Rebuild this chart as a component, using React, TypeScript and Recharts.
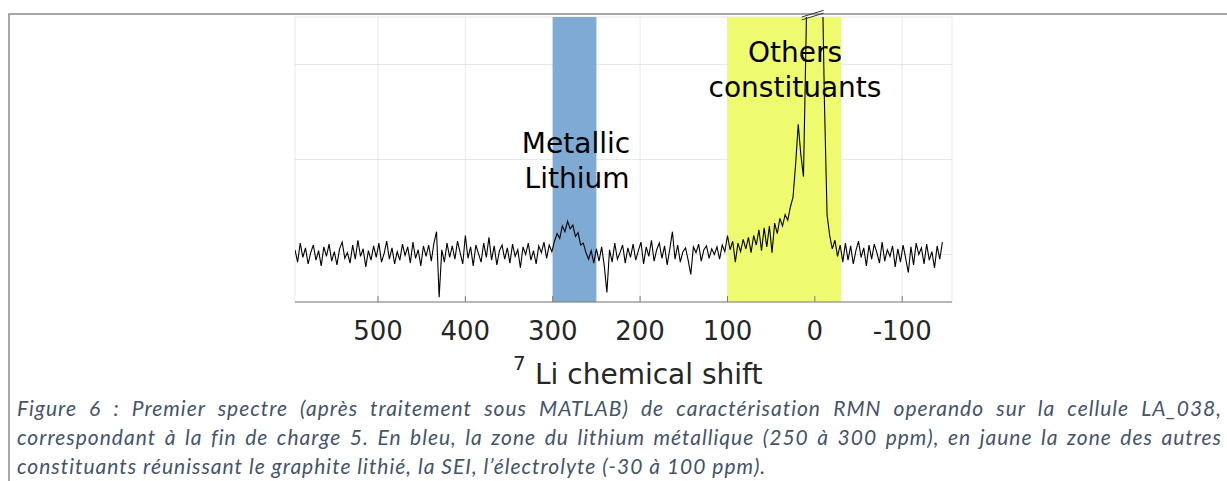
import {
  LineChart,
  Line,
  XAxis,
  YAxis,
  CartesianGrid,
  ReferenceArea,
  ReferenceLine,
} from "recharts";

// 7Li spectrum, one sample every 3 ppm starting at 595 ppm
const SHIFT_START = 595;
const SHIFT_STEP = 3;

const intensity = [
  // 595 .. 568
  0.05, -0.08, 0.12, -0.03, 0.07, -0.1, 0.02, 0.1, -0.06, 0.04,
  -0.12, 0.08, -0.02, 0.11, -0.07, 0.03, -0.11, 0.06, 0.13, -0.04,
  0.02, -0.09, 0.1, -0.05, 0.15, -0.02, 0.06, -0.13, 0.04, -0.06,
  0.09, -0.03, 0.12, -0.08, 0.01, 0.14, -0.05, 0.07, -0.1, 0.03,
  -0.06, 0.11, -0.01, 0.08, -0.09, 0.13, -0.04, 0.05, -0.12, 0.09,
  // 445 .. 418 (spike near 430)
  -0.02, 0.1, -0.07, 0.12, 0.24, -0.45, 0.05, -0.08, 0.12, -0.03,
  0.09, -0.05, 0.14, 0.02, -0.1, 0.2, -0.04, 0.08, -0.12, 0.1,
  0.01, -0.08, 0.12, -0.03, 0.18, -0.06, 0.09, -0.11, 0.04, 0.1,
  -0.05, 0.07, -0.09, 0.11, -0.02, 0.05, -0.14, 0.08, 0.0, 0.12,
  -0.06, 0.04, -0.1, 0.09, 0.02, 0.13, -0.04, 0.1, 0.03, 0.14,
  // 295 .. 268 metallic lithium bump
  0.22, 0.17, 0.3, 0.24, 0.35, 0.27, 0.31, 0.19, 0.23, 0.1,
  0.12, 0.02, -0.05, 0.04, -0.09, 0.06, -0.07, 0.08, -0.12, -0.4,
  0.05, -0.08, 0.12, -0.05, 0.02, 0.1, -0.09, 0.07, -0.03, 0.11,
  -0.06, 0.04, 0.13, -0.1, 0.08, -0.02, 0.15, -0.07, 0.05, 0.12,
  -0.04, 0.09, -0.11, 0.06, 0.24, -0.05, 0.1, -0.08, 0.03, 0.07,
  -0.06, -0.21, 0.08, 0.02, 0.11, -0.07, 0.05, 0.09, -0.04, 0.06,
  0.0, 0.08, -0.05, 0.1, 0.03,
  // 100 .. 73
  0.2, 0.05, 0.14, -0.08, 0.12, 0.03, 0.16, 0.06, 0.18, 0.02,
  0.2, 0.1, 0.26, 0.04, 0.28, 0.08, 0.3, 0.02, 0.33, 0.22,
  // 40 .. 13
  0.38, 0.3, 0.42, 0.36, 0.5, 0.6, 0.95, 1.37, 1.05, 0.82,
  // 10 .. -17 main peak (off scale)
  2.3, 4.0, 3.6, 3.8, 4.1, 3.7, 3.2, 1.6, 0.42, 0.2,
  0.06, 0.15, -0.02, 0.1, -0.08,
  // -35 .. -146
  0.12, -0.06, 0.09, -0.1, 0.04, 0.14, -0.03, 0.07, -0.12, 0.1,
  -0.05, 0.11, 0.02, -0.09, 0.13, -0.07, 0.05, -0.02, 0.09, -0.13,
  0.06, -0.08, 0.1, -0.04, -0.19, 0.08, -0.11, 0.12, 0.0, 0.07,
  -0.1, 0.11, -0.06, 0.03, -0.14, 0.09, -0.05, 0.13,
];

const xTicks = [500, 400, 300, 200, 100, 0, -100];
const yTicks = [0, 1, 2];
const metalZone = [300, 250];
const otherZone = [100, -30];

const spectrum = intensity.map((v, i) => ({ ppm: SHIFT_START - i * SHIFT_STEP, v }));

const W = 1227;
const H = 481;
const AXIS_DARK = "#3c3c3c";
const AXIS_LIGHT = "#7a7a7a";
const TICK_LEN = 6;
const FONT = "'DejaVu Sans', sans-serif";

const BottomTick = (props: any) => {
  const { x, y, payload } = props;
  return (
    <g>
      <line x1={x} y1={y} x2={x} y2={y - TICK_LEN} stroke={AXIS_LIGHT} />
      <text x={x} y={y + 37.5} textAnchor="middle" fontFamily={FONT} fontSize={26} fill="#262626">
        {payload.value}
      </text>
    </g>
  );
};

const TopTick = (props: any) => {
  const { x, y } = props;
  return <line x1={x} y1={y} x2={x} y2={y + TICK_LEN} stroke={AXIS_LIGHT} />;
};

const LeftTick = (props: any) => {
  const { x, y } = props;
  return <line x1={x} y1={y} x2={x + TICK_LEN} y2={y} stroke={AXIS_DARK} />;
};

const RightTick = (props: any) => {
  const { x, y } = props;
  return <line x1={x} y1={y} x2={x - TICK_LEN} y2={y} stroke={AXIS_DARK} />;
};

const captionLine = { textAlign: "justify" as const, textAlignLast: "justify" as const, whiteSpace: "nowrap" as const };

export default function App() {
  return (
    <div style={{ position: "absolute", left: 0, top: 0, width: W, height: H, background: "#fff" }}>
      {/* page frame */}
      <div style={{ position: "absolute", left: 8, top: 13, width: W - 8, height: 2, background: "#a6a6a6" }} />
      <div style={{ position: "absolute", left: 8, top: 13, width: 2, height: H - 13, background: "#a6a6a6" }} />

      <div style={{ position: "absolute", left: 0, top: 0 }}>
        <LineChart width={W} height={H} data={spectrum} margin={{ top: 17, right: 275, bottom: 139, left: 295 }}>
          <ReferenceArea x1={metalZone[0]} x2={metalZone[1]} fill="#7eaad4" fillOpacity={1} stroke="none" />
          <ReferenceArea x1={otherZone[0]} x2={otherZone[1]} fill="#eefb6f" fillOpacity={1} stroke="none" />
          <CartesianGrid stroke="#000" strokeOpacity={0.09} />
          <XAxis
            type="number"
            dataKey="ppm"
            domain={[-157, 595]}
            reversed
            allowDataOverflow
            ticks={xTicks}
            tickSize={0}
            tickMargin={0}
            tickLine={false}
            tick={<BottomTick />}
            axisLine={{ stroke: AXIS_LIGHT }}
            height={40}
          />
          <XAxis
            xAxisId="top"
            orientation="top"
            type="number"
            dataKey="ppm"
            domain={[-157, 595]}
            reversed
            allowDataOverflow
            ticks={xTicks}
            tickSize={0}
            tickMargin={0}
            tickLine={false}
            tick={<TopTick />}
            axisLine={{ stroke: AXIS_LIGHT }}
            height={0}
          />
          <YAxis
            type="number"
            domain={[-0.5, 2.5]}
            allowDataOverflow
            ticks={yTicks}
            tickSize={0}
            tickMargin={0}
            tickLine={false}
            tick={<LeftTick />}
            axisLine={{ stroke: AXIS_DARK }}
            width={0}
          />
          <YAxis
            yAxisId="right"
            orientation="right"
            type="number"
            domain={[-0.5, 2.5]}
            allowDataOverflow
            ticks={yTicks}
            tickSize={0}
            tickMargin={0}
            tickLine={false}
            tick={<RightTick />}
            axisLine={{ stroke: AXIS_DARK }}
            width={0}
          />
          <Line
            type="linear"
            dataKey="v"
            stroke="#000"
            strokeWidth={1.1}
            dot={false}
            isAnimationActive={false}
          />
          {/* axis-break marks over the clipped main peak */}
          <ReferenceLine
            segment={[{ x: 15, y: 2.47 }, { x: -10, y: 2.54 }]}
            stroke="#333"
            ifOverflow="visible"
          />
          <ReferenceLine
            segment={[{ x: 15, y: 2.5 }, { x: -10, y: 2.57 }]}
            stroke="#333"
            ifOverflow="visible"
          />
        </LineChart>
      </div>

      <svg width={W} height={H} style={{ position: "absolute", left: 0, top: 0, pointerEvents: "none" }}>
        <g fontFamily={FONT} fontSize={28} fill="#000" textAnchor="middle">
          <text x={576} y={153}>Metallic</text>
          <text x={577} y={188}>Lithium</text>
          <text x={795} y={62}>Others</text>
          <text x={795} y={97}>constituants</text>
        </g>
        <text x={513} y={370} fontFamily={FONT} fontSize={20} fill="#262626">7</text>
        <text x={535} y={384} fontFamily={FONT} fontSize={28} fill="#262626">Li chemical shift</text>
      </svg>

      <div
        style={{
          position: "absolute",
          left: 17,
          top: 393,
          width: 1205,
          fontFamily: "Lato, 'Open Sans', sans-serif",
          fontStyle: "italic",
          fontSize: 21,
          letterSpacing: "1px",
          lineHeight: "29px",
          color: "#44546a",
        }}
      >
        <div style={captionLine}>
          Figure 6 : Premier spectre (après traitement sous MATLAB) de caractérisation RMN operando sur la cellule LA_038,
        </div>
        <div style={captionLine}>
          correspondant à la fin de charge 5. En bleu, la zone du lithium métallique (250 à 300 ppm), en jaune la zone des autres
        </div>
        <div style={{ whiteSpace: "nowrap" }}>
          constituants réunissant le graphite lithié, la SEI, l’électrolyte (-30 à 100 ppm).
        </div>
      </div>
    </div>
  );
}
